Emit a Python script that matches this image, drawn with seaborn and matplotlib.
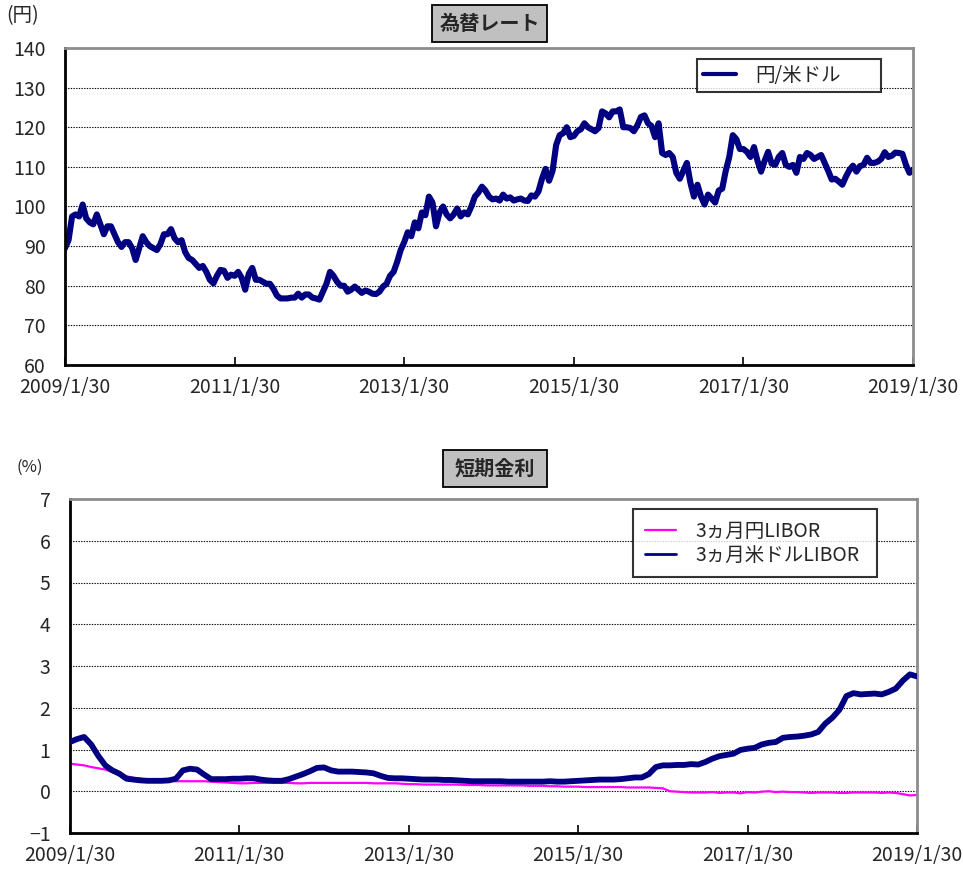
import numpy as np
import pandas as pd
import matplotlib
matplotlib.use("Agg")
import matplotlib.pyplot as plt
from matplotlib.patches import Rectangle
from matplotlib.lines import Line2D
import seaborn as sns

sns.set_theme(style="white")
plt.rcParams['font.family'] = ['Noto Sans CJK JP', 'DejaVu Sans']
plt.rcParams['axes.unicode_minus'] = True

# ---------------- data ----------------
# USD/JPY, semi-monthly readings 2009/1/30 .. 2019/1/30
usdjpy_2009 = [89.5, 91.5, 97.5, 98.0, 97.5, 100.5, 97.0, 96.0, 95.5, 98.0, 95.5, 93.0,
               95.0, 95.0, 93.0, 91.0, 89.8, 91.0, 91.0, 89.5, 86.5, 89.5, 92.5, 91.0]
usdjpy_2010 = [90.0, 89.5, 89.0, 90.5, 93.0, 93.0, 94.3, 92.0, 91.0, 91.5, 88.5, 87.0,
               86.5, 85.5, 84.5, 85.0, 83.5, 81.5, 80.6, 82.5, 84.0, 83.8, 82.0, 82.8]
usdjpy_2011 = [82.5, 83.5, 82.0, 79.0, 83.0, 84.5, 81.5, 81.5, 81.0, 80.5, 80.5, 79.2,
               77.5, 76.8, 76.8, 76.8, 77.0, 77.0, 78.0, 77.0, 77.8, 77.8, 77.0, 76.8]
usdjpy_2012 = [76.5, 78.5, 80.5, 83.5, 82.5, 81.0, 80.0, 80.0, 78.5, 79.0, 79.8, 79.0,
               78.2, 78.8, 78.5, 78.0, 77.9, 78.5, 79.8, 80.5, 82.5, 83.5, 86.0, 89.0]
usdjpy_2013 = [91.0, 93.5, 92.5, 96.0, 94.5, 98.5, 97.8, 102.5, 101.0, 95.0, 98.5, 100.0,
               98.0, 97.0, 98.0, 99.5, 97.5, 98.5, 98.0, 100.0, 102.5, 103.5, 105.0, 104.0]
usdjpy_2014 = [102.5, 101.8, 102.0, 101.5, 103.0, 102.0, 102.3, 101.5, 101.8, 102.0, 101.5, 101.4,
               102.8, 102.5, 103.8, 107.0, 109.5, 106.5, 109.0, 115.5, 118.0, 118.5, 120.0, 117.5]
usdjpy_2015 = [117.8, 119.0, 119.5, 121.0, 120.0, 119.5, 119.0, 119.8, 124.0, 123.5, 122.5, 124.0,
               124.0, 124.5, 120.0, 120.0, 119.8, 119.0, 120.5, 122.6, 123.0, 121.0, 120.3, 117.5]
usdjpy_2016 = [121.0, 113.5, 113.0, 113.5, 112.5, 108.5, 107.0, 109.0, 111.0, 106.0, 102.5, 105.5,
               102.5, 100.5, 103.0, 102.0, 101.0, 104.0, 104.5, 109.0, 112.5, 118.0, 117.0, 114.5]
usdjpy_2017 = [114.5, 113.8, 112.5, 115.0, 111.5, 108.8, 111.5, 113.8, 110.8, 110.5, 112.5, 113.5,
               110.5, 110.0, 110.5, 108.5, 112.5, 112.0, 113.5, 113.0, 112.0, 112.5, 113.0, 111.0]
usdjpy_2018 = [109.0, 106.8, 107.0, 106.3, 105.5, 107.5, 109.2, 110.3, 108.8, 110.2, 110.5, 112.3,
               111.0, 111.0, 111.3, 112.0, 113.7, 112.5, 112.8, 113.6, 113.5, 113.3, 110.5, 108.5]
usdjpy_2019 = [109.2]
usdjpy = (usdjpy_2009 + usdjpy_2010 + usdjpy_2011 + usdjpy_2012 + usdjpy_2013 +
          usdjpy_2014 + usdjpy_2015 + usdjpy_2016 + usdjpy_2017 + usdjpy_2018 + usdjpy_2019)

# 3-month LIBOR, monthly readings Jan 2009 .. Jan 2019 (%)
usd_libor = [1.18, 1.25, 1.30, 1.12, 0.85, 0.62, 0.50, 0.42, 0.30, 0.28, 0.26, 0.25,
             0.25, 0.25, 0.26, 0.30, 0.50, 0.54, 0.52, 0.40, 0.29, 0.29, 0.29, 0.30,
             0.30, 0.31, 0.31, 0.28, 0.26, 0.25, 0.25, 0.29, 0.35, 0.41, 0.48, 0.56,
             0.57, 0.50, 0.47, 0.47, 0.47, 0.46, 0.45, 0.43, 0.37, 0.32, 0.31, 0.31,
             0.30, 0.29, 0.28, 0.28, 0.28, 0.27, 0.27, 0.26, 0.25, 0.24, 0.24, 0.24,
             0.24, 0.24, 0.23, 0.23, 0.23, 0.23, 0.23, 0.23, 0.24, 0.23, 0.23, 0.24,
             0.25, 0.26, 0.27, 0.28, 0.28, 0.28, 0.29, 0.31, 0.33, 0.33, 0.41, 0.58,
             0.62, 0.62, 0.63, 0.63, 0.65, 0.64, 0.70, 0.78, 0.84, 0.87, 0.90, 0.99,
             1.02, 1.04, 1.12, 1.16, 1.18, 1.28, 1.30, 1.31, 1.33, 1.36, 1.42, 1.62,
             1.76, 1.95, 2.28, 2.35, 2.32, 2.33, 2.34, 2.32, 2.38, 2.46, 2.65, 2.80,
             2.75]
jpy_libor = [0.66, 0.64, 0.62, 0.58, 0.55, 0.52, 0.46, 0.41, 0.36, 0.32, 0.30, 0.28,
             0.27, 0.26, 0.25, 0.24, 0.24, 0.24, 0.24, 0.24, 0.23, 0.22, 0.21, 0.20,
             0.19, 0.19, 0.20, 0.20, 0.20, 0.20, 0.20, 0.20, 0.19, 0.19, 0.20, 0.20,
             0.20, 0.20, 0.20, 0.20, 0.20, 0.20, 0.20, 0.19, 0.19, 0.19, 0.19, 0.18,
             0.17, 0.17, 0.16, 0.16, 0.16, 0.16, 0.16, 0.16, 0.15, 0.15, 0.15, 0.14,
             0.14, 0.14, 0.14, 0.14, 0.14, 0.13, 0.13, 0.13, 0.12, 0.12, 0.11, 0.11,
             0.11, 0.10, 0.10, 0.10, 0.10, 0.10, 0.10, 0.09, 0.09, 0.09, 0.09, 0.08,
             0.07, 0.00, -0.01, -0.02, -0.03, -0.03, -0.03, -0.02, -0.04, -0.03, -0.03, -0.05,
             -0.02, -0.03, -0.01, 0.00, -0.02, -0.01, -0.02, -0.02, -0.03, -0.04, -0.03, -0.03,
             -0.03, -0.04, -0.04, -0.03, -0.03, -0.03, -0.03, -0.04, -0.03, -0.04, -0.07, -0.10,
             -0.09]

tick_labels = ["2009/1/30", "2011/1/30", "2013/1/30", "2015/1/30", "2017/1/30", "2019/1/30"]
fx_label = "円/米ドル"
jpy_label = "3ヵ月円LIBOR"
usd_label = "3ヵ月米ドルLIBOR"
title_top = "為替レート"
title_bottom = "短期金利"

start, end = pd.Timestamp("2009-01-30"), pd.Timestamp("2019-01-30")
fx_df = pd.DataFrame({"date": pd.date_range(start, end, periods=len(usdjpy)),
                      "value": usdjpy, "series": fx_label})
rate_dates = pd.date_range(start, end, periods=len(usd_libor))
rate_df = pd.concat([
    pd.DataFrame({"date": rate_dates, "value": jpy_libor, "series": jpy_label}),
    pd.DataFrame({"date": rate_dates, "value": usd_libor, "series": usd_label}),
])

NAVY = "#000080"
PINK = "#FF00FF"
TICK_FS = 14

W, H = 963, 869
fig = plt.figure(figsize=(W / 100, H / 100), dpi=100)

def px_axes(l, t, r, b):
    return fig.add_axes([l / W, 1 - b / H, (r - l) / W, (b - t) / H])

ax1 = px_axes(65, 48, 913, 365)
ax2 = px_axes(70, 499, 917, 833)

sns.lineplot(data=fx_df, x="date", y="value", hue="series", palette={fx_label: NAVY},
             linewidth=4.4, ax=ax1, legend=False)
sns.lineplot(data=rate_df, x="date", y="value", hue="series",
             palette={jpy_label: PINK, usd_label: NAVY}, ax=ax2, legend=False)
l_jpy, l_usd = ax2.get_lines()[0], ax2.get_lines()[1]
l_jpy.set_linewidth(1.6)
l_usd.set_linewidth(4.2)
l_usd.set_zorder(3); l_jpy.set_zorder(2)

tick_dates = [pd.Timestamp(f"{t.split('/')[0]}-01-30") for t in tick_labels]

def style(ax, ylim, yticks):
    ax.set_xlim(start, end)
    ax.set_ylim(*ylim)
    ax.set_yticks(yticks)
    ax.set_yticklabels([("−" + str(abs(v))) if v < 0 else str(v) for v in yticks])
    ax.set_xticks(tick_dates)
    ax.set_xticklabels(tick_labels)
    ax.set_xlabel(""); ax.set_ylabel("")
    ax.tick_params(axis="x", direction="in", length=6, width=1.2, color="black",
                   labelsize=TICK_FS, pad=9, bottom=True)
    ax.tick_params(axis="y", length=0, labelsize=TICK_FS, pad=14, left=False)
    for v in yticks[1:-1]:
        ax.axhline(v, color="black", linestyle=(0, (1.2, 1.2)), linewidth=0.8, zorder=0)
    ax.spines["left"].set_color("black"); ax.spines["left"].set_linewidth(2)
    ax.spines["bottom"].set_color("black"); ax.spines["bottom"].set_linewidth(2)
    ax.spines["top"].set_color("#8c8c8c"); ax.spines["top"].set_linewidth(2)
    ax.spines["right"].set_color("#8c8c8c"); ax.spines["right"].set_linewidth(2)
    for s in ax.spines.values():
        s.set_visible(True)
    ax.set_facecolor("white")

style(ax1, (60, 140), list(range(60, 141, 10)))
style(ax2, (-1, 7), list(range(-1, 8)))

# legends (box width fixed via expand mode)
leg1 = ax1.legend([Line2D([], [], color=NAVY, lw=3)], [fx_label],
                  loc="upper left",
                  bbox_to_anchor=((697 - 65) / 848, 1 - (59 - 48) / 317, 184 / 848, 0.0),
                  mode="expand",
                  frameon=True, fancybox=False, edgecolor="black", fontsize=14,
                  handlelength=1.7, handletextpad=1.0, borderpad=0.3, borderaxespad=0)
leg1.get_frame().set_linewidth(1.5)
leg2 = ax2.legend([Line2D([], [], color=PINK, lw=1.6), Line2D([], [], color=NAVY, lw=2)],
                  [jpy_label, usd_label],
                  loc="upper left",
                  bbox_to_anchor=((633 - 70) / 847, 1 - (509 - 499) / 334, 244 / 847, 0.0),
                  mode="expand",
                  frameon=True, fancybox=False, edgecolor="black", fontsize=14,
                  handlelength=1.6, handletextpad=1.0, borderpad=0.6, labelspacing=0.15,
                  borderaxespad=0)
leg2.get_frame().set_linewidth(1.5)

# titles in gray boxes
def title_box(l, t, r, b, text):
    fig.patches.append(Rectangle((l / W, 1 - b / H), (r - l) / W, (b - t) / H,
                                 transform=fig.transFigure, facecolor="#c0c0c0",
                                 edgecolor="black", linewidth=1.3))
    fig.text((l + r) / 2 / W, 1 - (t + b) / 2 / H, text, ha="center", va="center",
             fontsize=14.5, fontweight="bold")

title_box(432, 5, 547, 42, title_top)
title_box(443, 450, 547, 487, title_bottom)

fig.text(6 / W, 1 - 16 / H, "(円)", ha="left", va="center", fontsize=14)
fig.text(16 / W, 1 - 467 / H, "(%)", ha="left", va="center", fontsize=12)

fig.savefig("out.png", dpi=100, facecolor="white")
